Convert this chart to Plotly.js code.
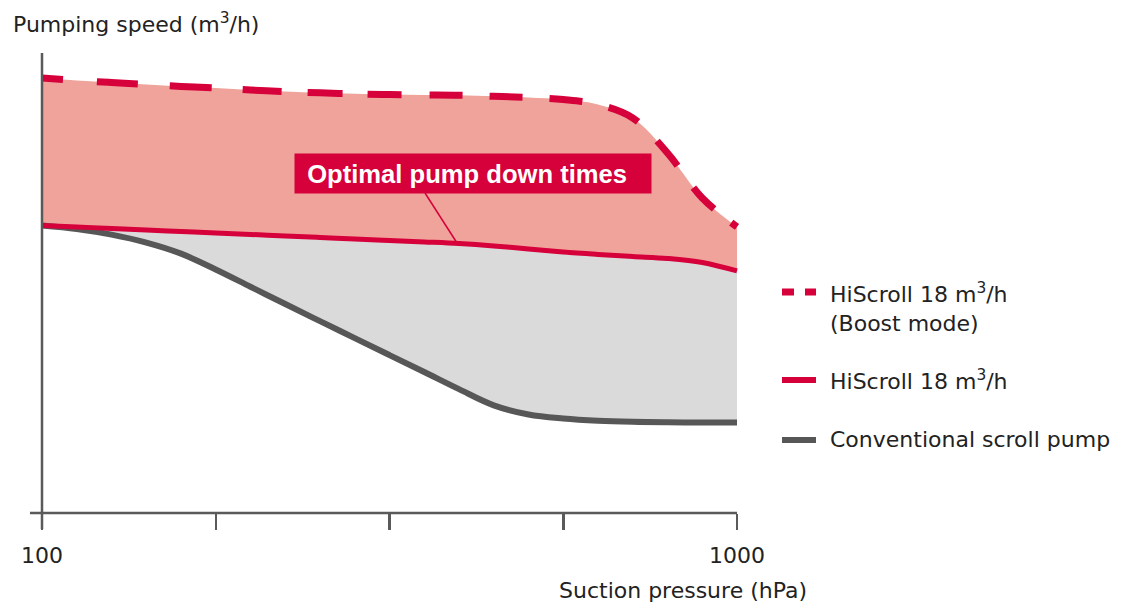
<!DOCTYPE html>
<html>
<head>
<meta charset="utf-8">
<script src="https://cdn.plot.ly/plotly-3.0.1.min.js"></script>
<style>
  html, body { margin: 0; padding: 0; background: #ffffff; }
  #chart { width: 1130px; height: 605px; }
</style>
</head>
<body>
<div id="chart"></div>
<script>
// Suction pressure (hPa), log scale, sampled every 0.05 decade
const pressure = [100, 112.2, 125.9, 141.3, 158.5, 177.8, 199.5, 223.9, 251.2, 281.8, 316.2, 354.8, 398.1, 446.7, 501.2, 562.3, 631.0, 707.9, 794.3, 891.3, 1000];
// Pumping speed (relative units)
const speedBoost = [27.19, 27.03, 26.91, 26.78, 26.66, 26.56, 26.44, 26.34, 26.26, 26.20, 26.15, 26.13, 26.11, 26.04, 25.97, 25.84, 25.53, 24.69, 22.50, 19.69, 17.88];
const speedHiScroll = [17.97, 17.88, 17.78, 17.69, 17.59, 17.50, 17.41, 17.31, 17.22, 17.13, 17.03, 16.94, 16.84, 16.69, 16.50, 16.31, 16.16, 16.03, 15.91, 15.66, 15.13];
const speedConv = [17.97, 17.75, 17.40, 16.90, 16.21, 15.22, 14.14, 13.06, 11.99, 10.93, 9.87, 8.81, 7.74, 6.73, 6.16, 5.91, 5.77, 5.70, 5.67, 5.66, 5.66];

const majorTicks = [100, 1000];
const majorLabels = ['100', '1000'];
const minorTicks = [177.83, 316.23, 562.34];

const seriesNames = ['HiScroll 18 m<sup>3</sup>/h', '(Boost mode)', 'HiScroll 18 m<sup>3</sup>/h', 'Conventional scroll pump'];
const yTitle = 'Pumping speed (m<sup>3</sup>/h)';
const xTitle = 'Suction pressure (hPa)';
const calloutText = '\u00A0<b>Optimal pump down times</b>';

const RED = '#D6003A';
const PINK = '#EFA39A';
const LIGHTGRAY = '#DADADA';
const DARKGRAY = '#575757';
const AXIS = '#5a5a5a';
const TEXT = '#222222';
const FONT = 'DejaVu Sans, Verdana, sans-serif';

// plot area in pixels: x 30..750, y 70..513
const W = 1130, H = 605;
const L = 30, R = 750, T = 70, B = 513;
const px2paperX = p => (p - L) / (R - L);
const px2paperY = p => (B - p) / (B - T);
const pxPerDecade = 695;

const hidden = { width: 0, color: 'rgba(0,0,0,0)', shape: 'spline' };

const traces = [
  // fill helpers
  { x: pressure, y: speedConv, type: 'scatter', mode: 'lines', line: hidden, hoverinfo: 'skip', showlegend: false },
  { x: pressure, y: speedHiScroll, type: 'scatter', mode: 'lines', line: hidden, fill: 'tonexty', fillcolor: LIGHTGRAY, hoverinfo: 'skip', showlegend: false },
  { x: pressure, y: speedBoost, type: 'scatter', mode: 'lines', line: hidden, fill: 'tonexty', fillcolor: PINK, hoverinfo: 'skip', showlegend: false },
  // visible lines
  { x: pressure, y: speedConv, type: 'scatter', mode: 'lines', name: seriesNames[3],
    line: { color: DARKGRAY, width: 6, shape: 'spline' }, showlegend: false },
  { x: pressure, y: speedHiScroll, type: 'scatter', mode: 'lines', name: seriesNames[2],
    line: { color: RED, width: 5, shape: 'spline' }, showlegend: false },
  { x: pressure, y: speedBoost, type: 'scatter', mode: 'lines', name: seriesNames[0] + ' ' + seriesNames[1],
    line: { color: RED, width: 7, shape: 'spline',
      dash: '21px,34px,41px,32px,42px,31px,39px,26px,35px,25px,34px,28px,33px,27px,33px,27px,33px,27px,33px,27px,32px,27px,30px,22px,30px' },
    showlegend: false }
];

const shapes = [
  // x axis line
  { type: 'line', xref: 'paper', yref: 'paper', x0: 0, x1: px2paperX(737), y0: 0, y1: 0,
    line: { color: AXIS, width: 2.5 } },
  // y axis line
  { type: 'line', xref: 'paper', yref: 'paper', x0: px2paperX(42), x1: px2paperX(42), y0: px2paperY(529), y1: px2paperY(53),
    line: { color: AXIS, width: 2.5 } },
  // callout pointer
  { type: 'line', xref: 'paper', yref: 'paper', x0: px2paperX(425), y0: px2paperY(193), x1: px2paperX(457), y1: px2paperY(243),
    line: { color: RED, width: 1.5 } },
  // legend symbols
  { type: 'line', xref: 'paper', yref: 'paper', x0: px2paperX(782), x1: px2paperX(794), y0: px2paperY(292), y1: px2paperY(292),
    line: { color: RED, width: 7 } },
  { type: 'line', xref: 'paper', yref: 'paper', x0: px2paperX(805), x1: px2paperX(816), y0: px2paperY(292), y1: px2paperY(292),
    line: { color: RED, width: 7 } },
  { type: 'line', xref: 'paper', yref: 'paper', x0: px2paperX(782), x1: px2paperX(816), y0: px2paperY(380), y1: px2paperY(380),
    line: { color: RED, width: 6 } },
  { type: 'line', xref: 'paper', yref: 'paper', x0: px2paperX(782), x1: px2paperX(816), y0: px2paperY(440), y1: px2paperY(440),
    line: { color: DARKGRAY, width: 6 } }
];

const textFont = { family: FONT, size: 22, color: TEXT };

const annotations = [
  { text: yTitle, xref: 'paper', yref: 'paper', x: px2paperX(11), y: px2paperY(23), xanchor: 'left', yanchor: 'middle',
    showarrow: false, font: textFont },
  { text: xTitle, xref: 'paper', yref: 'paper', x: px2paperX(683), y: px2paperY(590), xanchor: 'center', yanchor: 'middle',
    showarrow: false, font: textFont },
  { text: calloutText, xref: 'paper', yref: 'paper', x: px2paperX(294), y: px2paperY(173.5), xanchor: 'left', yanchor: 'middle',
    showarrow: false, bgcolor: RED, borderpad: 5, width: 346, height: 29, align: 'left', valign: 'middle',
    font: { family: 'Liberation Sans, Arial, sans-serif', size: 25.6, color: '#ffffff' } },
  { text: seriesNames[0], xref: 'paper', yref: 'paper', x: px2paperX(828), y: px2paperY(293), xanchor: 'left', yanchor: 'middle',
    showarrow: false, font: textFont },
  { text: seriesNames[1], xref: 'paper', yref: 'paper', x: px2paperX(828), y: px2paperY(323), xanchor: 'left', yanchor: 'middle',
    showarrow: false, font: textFont },
  { text: seriesNames[2], xref: 'paper', yref: 'paper', x: px2paperX(828), y: px2paperY(380), xanchor: 'left', yanchor: 'middle',
    showarrow: false, font: textFont },
  { text: seriesNames[3], xref: 'paper', yref: 'paper', x: px2paperX(828), y: px2paperY(439), xanchor: 'left', yanchor: 'middle',
    showarrow: false, font: textFont }
];

const layout = {
  width: W, height: H,
  margin: { l: L, r: W - R, t: T, b: H - B, pad: 0 },
  paper_bgcolor: '#ffffff', plot_bgcolor: '#ffffff',
  showlegend: false,
  xaxis: {
    type: 'log',
    range: [2 - (42 - L) / pxPerDecade, 3 + (R - 737) / pxPerDecade],
    tickmode: 'array', tickvals: majorTicks, ticktext: majorLabels,
    ticks: 'outside', ticklen: 16, tickwidth: 2.5, tickcolor: AXIS,
    minor: { tickmode: 'array', tickvals: minorTicks, ticks: 'outside', ticklen: 16, tickwidth: 2.5, tickcolor: AXIS, showgrid: false },
    showline: false, showgrid: false, zeroline: false,
    tickfont: textFont, ticklabelstandoff: 7,
    fixedrange: true
  },
  yaxis: {
    range: [0, (B - T) / 16],
    visible: false, showgrid: false, zeroline: false, fixedrange: true
  },
  shapes: shapes,
  annotations: annotations
};

Plotly.newPlot('chart', traces, layout, { displayModeBar: false, staticPlot: true });
</script>
</body>
</html>
